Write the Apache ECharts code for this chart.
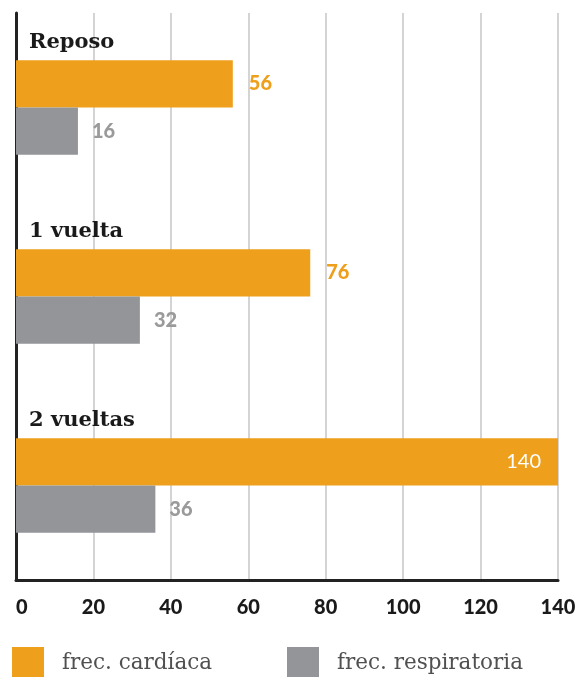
<!DOCTYPE html>
<html>
<head>
<meta charset="utf-8">
<script src="https://cdn.jsdelivr.net/npm/echarts@6/dist/echarts.min.js"></script>
<style>
html,body{margin:0;padding:0;background:#fff;}
#c{width:578px;height:677px;}
</style>
</head>
<body>
<div id="c"></div>
<script>
const categories = ['Reposo', '1 vuelta', '2 vueltas'];
const cardiaca = [56, 76, 140];
const respiratoria = [16, 32, 36];
const seriesNames = ['frec. cardíaca', 'frec. respiratoria'];
const xTicks = [0, 20, 40, 60, 80, 100, 120, 140];

const ORANGE = '#EE9F1B';
const GRAY = '#939598';

const chart = echarts.init(document.getElementById('c'), null, {renderer: 'canvas'});

const cardData = cardiaca.map(v => {
  if (v >= 120) {
    return {value: v, label: {position: 'insideRight', color: '#fff', fontWeight: 'normal', distance: 17}};
  }
  return {value: v};
});

const option = {
  animation: false,
  grid: {left: 16, right: 20, top: 13, bottom: 97, containLabel: false, outerBoundsMode: 'none'},
  xAxis: {
    type: 'value',
    min: xTicks[0],
    max: xTicks[xTicks.length - 1],
    interval: 20,
    axisLine: {show: true, lineStyle: {color: '#222', width: 3}},
    axisTick: {show: false},
    splitLine: {show: true, lineStyle: {color: '#c6c6c6', width: 1.5}},
    axisLabel: {
      color: '#1a1a1a', fontFamily: 'Lato', fontWeight: 900, fontSize: 20,
      margin: 18, alignMinLabel: 'left'
    }
  },
  yAxis: {
    type: 'category',
    inverse: true,
    data: categories,
    axisLine: {show: true, onZero: false, lineStyle: {color: '#222', width: 3}},
    axisTick: {show: false},
    splitLine: {show: false},
    axisLabel: {
      inside: true, interval: 0, margin: 13, align: 'left', verticalAlign: 'bottom',
      lineHeight: 130,
      color: '#1a1a1a', fontFamily: 'DejaVu Serif', fontWeight: 'bold', fontSize: 21
    }
  },
  legend: [
    {
      data: [seriesNames[0]], left: 12, top: 647, padding: 0,
      icon: 'rect', itemWidth: 32, itemHeight: 32,
      textStyle: {fontFamily: 'DejaVu Serif', fontSize: 21.5, color: '#505050', padding: [0, 0, 0, 13]}
    },
    {
      data: [seriesNames[1]], left: 287, top: 647, padding: 0,
      icon: 'rect', itemWidth: 32, itemHeight: 32,
      textStyle: {fontFamily: 'DejaVu Serif', fontSize: 21.5, color: '#505050', padding: [0, 0, 0, 13]}
    }
  ],
  series: [
    {
      name: seriesNames[0], type: 'bar', data: cardData,
      barGap: '0%', barCategoryGap: '50%',
      itemStyle: {color: ORANGE},
      label: {show: true, position: 'right', distance: 16, color: ORANGE,
        fontFamily: 'Lato', fontWeight: 900, fontSize: 20}
    },
    {
      name: seriesNames[1], type: 'bar', data: respiratoria,
      barGap: '0%', barCategoryGap: '50%',
      itemStyle: {color: GRAY},
      label: {show: true, position: 'right', distance: 14, color: '#9a9a9a',
        fontFamily: 'Lato', fontWeight: 900, fontSize: 20}
    }
  ]
};
chart.setOption(option);
</script>
</body>
</html>
